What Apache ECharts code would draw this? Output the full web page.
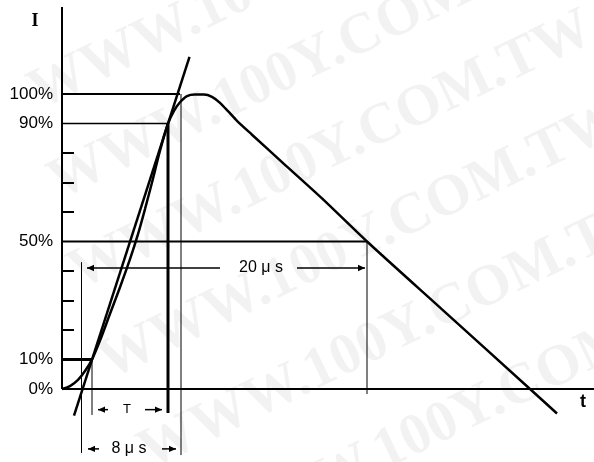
<!DOCTYPE html>
<html>
<head>
<meta charset="utf-8">
<script src="https://cdn.jsdelivr.net/npm/echarts@6/dist/echarts.min.js"></script>
<style>
html, body { margin: 0; padding: 0; background: #fff; }
#main { width: 594px; height: 462px; }
</style>
</head>
<body>
<div id="main"></div>
<script>
// 8/20 波形：t 为时间（任意单位），i 为电流百分比
var waveT = [0, 0.8, 1.6, 2.3, 3.0, 3.8, 4.8, 5.8, 6.8, 7.6, 8.3, 9.0, 9.8, 10.6, 11.2, 11.8, 12.5, 13.3, 14.2, 15.0, 15.8, 16.6, 17.5, 19, 22, 26, 30.5, 38, 46.8, 49.5];
var waveI = [0, 1.0, 3.1, 6.1, 10, 16.4, 25.5, 34.5, 44, 52.5, 61, 70, 80.8, 90, 94.3, 97.2, 99.3, 99.8, 99.8, 99.0, 97.0, 94.2, 90.9, 86.2, 76.9, 64.6, 50, 27, 0, -8.3];

// 经过 10% 与 90% 的直线
var frontT = [1.2, 12.75];
var frontI = [-9, 112.6];

// 坐标轴
var yAxisTop = 129.5;
var xAxisEnd = 53.2;
var yLabelValues = [0, 10, 50, 90, 100];
var yTickValues = [20, 30, 40, 60, 70, 80];

// 水平参考线
var hLevels = [100, 90, 50, 10];
var hEnds = [11.8, 10.6, 30.5, 3.0];

// 竖直参考线
var vTimes = [1.95, 3.0, 10.6, 11.9, 30.5];
var vTops = [43, 10, 90, 100, 50];
var vBottoms = [-21.7, -8.8, -8.1, -22.4, -1.7];

// 尺寸标注
var dimNames = ['T', '8 \u03bc s', '20 \u03bc s'];
var dimLevels = [-7, -20.3, 41];
var dimFrom = [3.6, 2.6, 2.5];
var dimGapL = [4.6, 3.7, 15.8];
var dimTextT = [6.5, 6.7, 19.9];
var dimGapR = [8.3, 10.0, 23.5];
var dimTo = [10.0, 11.4, 30.3];

var chart = echarts.init(document.getElementById('main'));

function seg(ts, is, w) {
  return {
    type: 'line',
    data: ts.map(function (v, k) { return [v, is[k]]; }),
    symbol: 'none',
    showSymbol: false,
    silent: true,
    lineStyle: { color: '#000', width: w },
    z: 3
  };
}

var series = [];
// 坐标轴线
series.push(seg([0, 0], [0, yAxisTop], 2));
series.push(seg([0, xAxisEnd], [0, 0], 2));
// 水平线
var hWidths = [2, 1.5, 2, 3];
hLevels.forEach(function (lv, k) {
  series.push(seg([0, hEnds[k]], [lv, lv], hWidths[k]));
});
// 竖直线
var vWidths = [1, 1, 3, 1, 1];
vTimes.forEach(function (t, k) {
  series.push(seg([t, t], [vTops[k], vBottoms[k]], vWidths[k]));
});
// 波形
var wave = seg(waveT, waveI, 2.5);
wave.smooth = 0.25;
series.push(wave);
series.push(seg(frontT, frontI, 2.5));

// 箭头和文字
function arrowHead(x, y, d) {
  var L = 7, hw = 3.2;
  return {
    type: 'polygon',
    shape: { points: [[x, y], [x - d * L, y - hw], [x - d * L, y + hw]] },
    style: { fill: '#000' }
  };
}

series.push({
  type: 'custom',
  silent: true,
  data: [[0, 0]],
  z: 4,
  renderItem: function (params, api) {
    var kids = [];
    dimNames.forEach(function (name, k) {
      var a = api.coord([dimFrom[k], dimLevels[k]]);
      var b = api.coord([dimGapL[k], dimLevels[k]]);
      var c = api.coord([dimGapR[k], dimLevels[k]]);
      var d = api.coord([dimTo[k], dimLevels[k]]);
      var m = api.coord([dimTextT[k], dimLevels[k]]);
      kids.push({ type: 'line', shape: { x1: a[0], y1: a[1], x2: b[0], y2: b[1] }, style: { stroke: '#000', lineWidth: 1.5 } });
      kids.push({ type: 'line', shape: { x1: c[0], y1: c[1], x2: d[0], y2: d[1] }, style: { stroke: '#000', lineWidth: 1.5 } });
      kids.push(arrowHead(a[0], a[1], -1));
      kids.push(arrowHead(d[0], d[1], 1));
      kids.push({
        type: 'text',
        style: {
          text: name, x: m[0], y: m[1],
          align: 'center', verticalAlign: 'middle',
          font: (k === 0 ? '13px' : '16px') + ' "Liberation Sans"',
          fill: '#000'
        }
      });
    });
    var pI = api.coord([-2.7, 124.5]);
    kids.push({ type: 'text', style: { text: 'I', x: pI[0], y: pI[1], align: 'center', verticalAlign: 'middle', font: 'bold 18px "Liberation Serif"', fill: '#000' } });
    var pt = api.coord([52.1, -4.4]);
    kids.push({ type: 'text', style: { text: 't', x: pt[0], y: pt[1], align: 'center', verticalAlign: 'middle', font: 'bold 18px "Liberation Sans"', fill: '#000' } });
    return { type: 'group', children: kids };
  }
});

// 水印
var wmRows = [[20, 70], [40, 160], [60, 250], [90, 340], [130, 430], [200, 510]];
var graphic = wmRows.map(function (p) {
  return {
    type: 'text',
    x: p[0], y: p[1],
    rotation: 0.45,
    silent: true,
    z: -10,
    style: { text: 'WWW.100Y.COM.TW', font: 'bold 58px "Liberation Serif"', fill: 'rgba(0,0,0,0.05)' }
  };
});

chart.setOption({
  animation: false,
  backgroundColor: '#fff',
  graphic: graphic,
  grid: { left: 62, right: 0, top: 5.5, bottom: 2.2, outerBoundsMode: 'none' },
  xAxis: { type: 'value', min: 0, max: xAxisEnd, show: false },
  yAxis: {
    type: 'value',
    min: -24,
    max: 130,
    splitLine: { show: false },
    axisLine: { show: false },
    axisTick: {
      show: true, inside: true, length: 12,
      lineStyle: { color: '#000', width: 2 },
      customValues: yTickValues
    },
    axisLabel: {
      customValues: yLabelValues,
      formatter: '{value}%',
      color: '#000',
      fontSize: 17,
      fontFamily: 'Liberation Sans',
      margin: 9
    }
  },
  series: series
});
</script>
</body>
</html>
